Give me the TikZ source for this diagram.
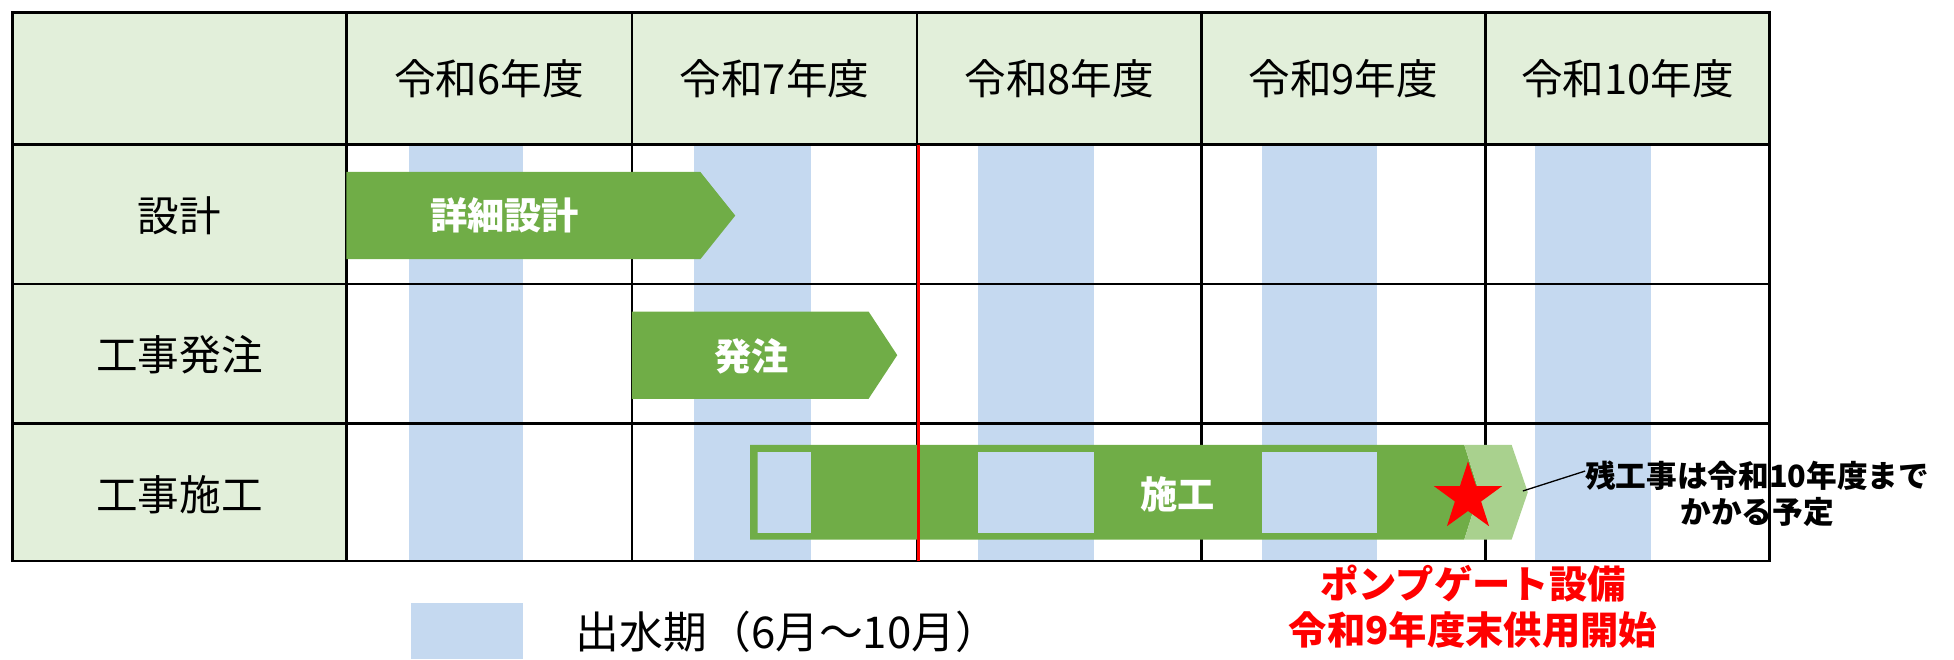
\documentclass[tikz,border=0pt]{standalone}
\usepackage{fontspec}
\usepackage{tikz}
\usetikzlibrary{shapes.geometric}
\newfontfamily\jp{Noto Sans CJK JP}
\definecolor{hdrgreen}{HTML}{E2EFDA}
\definecolor{flood}{HTML}{C5D9F0}
\definecolor{bargreen}{HTML}{70AD47}
\definecolor{lightbar}{HTML}{A9D18E}

\begin{document}
\begin{tikzpicture}[x=0.2mm, y=-0.2mm,
	every node/.style={font=\jp\fontsize{19}{23}\selectfont, inner sep=1pt},
	barlabel/.style={text=white, font=\jp\bfseries\fontsize{17}{20}\selectfont},
	gridline/.style={black, line width=1.1pt}]
	\useasboundingbox (0,0) rectangle (1568,529);
	% header row and first column
	\fill[hdrgreen] (10,10) rectangle (1420,116);
	\fill[hdrgreen] (10,116) rectangle (278,450);
	% flood season bands
	\fill[flood] (328,116) rectangle (420,450);
	\fill[flood] (557,116) rectangle (651,450);
	\fill[flood] (785,116) rectangle (878,450);
	\fill[flood] (1013,116) rectangle (1105,450);
	\fill[flood] (1232,116) rectangle (1325,450);
	% grid
	\draw[gridline] (10,10) rectangle (1420,450);
	\draw[gridline] (10,116) -- (1420,116);
	\draw[gridline] (10,228) -- (1420,228);
	\draw[gridline] (10,340) -- (1420,340);
	\draw[gridline] (278,10) -- (278,450);
	\draw[gridline] (507,10) -- (507,450);
	\draw[gridline] (736,10) -- (736,450);
	\draw[gridline] (964,10) -- (964,450);
	\draw[gridline] (1192,10) -- (1192,450);
	% headers
	\node (r6) at (392.5,63) {令和6年度};
	\node (r7) at (621.5,63) {令和7年度};
	\node (r8) at (850,63) {令和8年度};
	\node (r9) at (1078,63) {令和9年度};
	\node (r10) at (1306,63) {令和10年度};
	\node (design) at (144,173) {設計};
	\node (order) at (144,285) {工事発注};
	\node (build) at (144,397) {工事施工};
	% bars
	\fill[bargreen] (278,138) -- (562,138) -- (590,173) -- (562,208) -- (278,208) -- cycle;
	\node[barlabel] (detail) at (405,173) {詳細設計};
	\fill[bargreen] (507,250) -- (697,250) -- (720,285) -- (697,320) -- (507,320) -- cycle;
	\node[barlabel] (ordering) at (603,286) {発注};
	\fill[bargreen] (602,357) -- (1175,357) -- (1187,395) -- (1175,433) -- (602,433) -- cycle;
	\begin{scope}
		\clip (608,363) rectangle (1172,427);
		\fill[flood] (557,116) rectangle (651,450);
		\fill[flood] (785,116) rectangle (878,450);
		\fill[flood] (1013,116) rectangle (1105,450);
	\end{scope}
	\fill[lightbar] (1175,357) -- (1213,357) -- (1226,395) -- (1213,433) -- (1175,433) -- (1187,395) -- cycle;
	\node[barlabel] (works) at (945,397) {施工};
	\draw[red, line width=1.1pt] (737,116) -- (737,450);
	\node[star, star points=5, star point ratio=2.6, fill=red, minimum size=11.5mm, inner sep=0pt] (star) at (1178,399) {};
	% note
	\coordinate (tip) at (1222,394);
	\coordinate (lead) at (1272,378);
	\draw[black, line width=0.6pt] (tip) -- (lead);
	\node[align=center, font=\jp\bfseries\fontsize{14}{16.5}\selectfont] (note) at (1410,396) {残工事は令和10年度まで\\かかる予定};
	\node[align=center, text=red, font=\jp\bfseries\fontsize{17.5}{21}\selectfont] (pump) at (1182,487) {ポンプゲート設備\\令和9年度末供用開始};
	% legend
	\fill[flood] (330,484) rectangle (420,529);
	\node[anchor=west, font=\jp\fontsize{20}{24}\selectfont] (legend) at (460,507) {出水期（6月～10月）};
\end{tikzpicture}
\end{document}
